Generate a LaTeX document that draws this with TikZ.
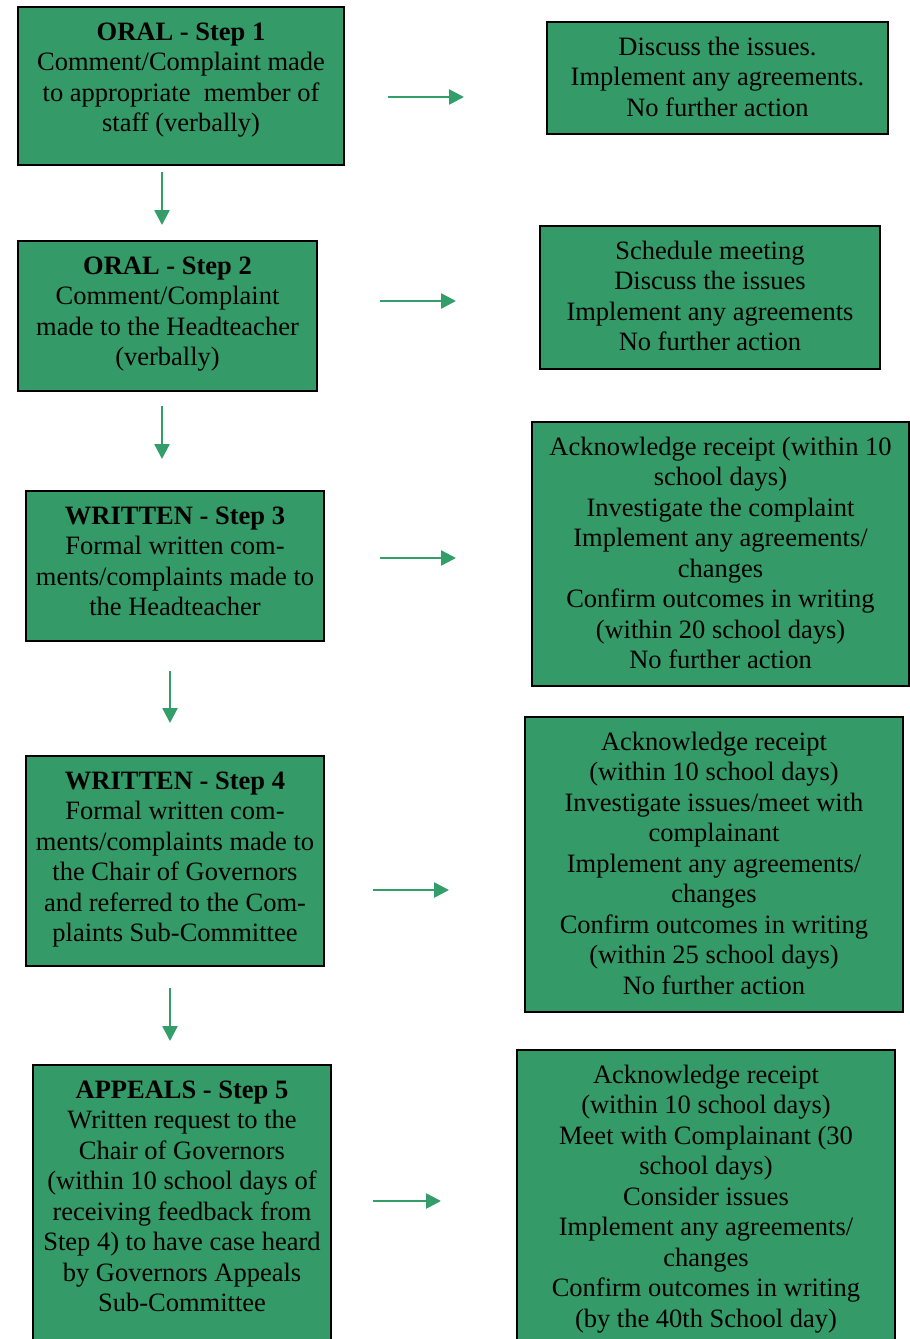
\documentclass[tikz,border=0pt]{standalone}
\usepackage{fontspec}
\setmainfont{Liberation Serif}
\usetikzlibrary{arrows.meta}
\definecolor{boxgreen}{RGB}{52,154,104}
\definecolor{arrowgreen}{RGB}{52,158,106}
\tikzset{
  box/.style={draw=black, line width=1.2pt, fill=boxgreen, inner sep=0pt, outer sep=0pt},
  txt/.style={anchor=north, align=center, inner sep=0pt, text=black, font=\fontsize{26.5}{30.5}\selectfont},
  arr/.style={draw=arrowgreen, line width=2.6pt, -{Triangle[length=15pt,width=15pt]}}
}
\begin{document}
\begin{tikzpicture}[x=1pt,y=-1pt]
\useasboundingbox (0,0) rectangle (910,1339);
\clip (0,0) rectangle (910,1339);
% left boxes
\node[box, minimum width=326, minimum height=158] (b1) at (181,86) {};
\node[box, minimum width=299, minimum height=150] (b2) at (167.5,316) {};
\node[box, minimum width=298, minimum height=150] (b3) at (175,566) {};
\node[box, minimum width=298, minimum height=210] (b4) at (175,861) {};
\node[box, minimum width=298, minimum height=285] (b5) at (182,1207.5) {};
% right boxes
\node[box, minimum width=341, minimum height=112] (r1) at (717.5,78) {};
\node[box, minimum width=340, minimum height=143] (r2) at (710,297.5) {};
\node[box, minimum width=377, minimum height=264] (r3) at (720.5,554) {};
\node[box, minimum width=378, minimum height=295] (r4) at (714,864.5) {};
\node[box, minimum width=378, minimum height=300] (r5) at (706,1200) {};
% texts left
\node[txt] (t1) at ([yshift=-11.65pt]b1.north) {\strut\textbf{ORAL - Step 1}\\Comment/Complaint made\\to appropriate\ \ member of\\staff (verbally)};
\node[txt] (t2) at ([yshift=-11.65pt]b2.north) {\strut\textbf{ORAL - Step 2}\\Comment/Complaint\\made to the Headteacher\\(verbally)};
\node[txt] (t3) at ([yshift=-11.65pt]b3.north) {\strut\textbf{WRITTEN - Step 3}\\Formal written com-\\ments/complaints made to\\the Headteacher};
\node[txt] (t4) at ([yshift=-11.65pt]b4.north) {\strut\textbf{WRITTEN - Step 4}\\Formal written com-\\ments/complaints made to\\the Chair of Governors\\and referred to the Com-\\plaints Sub-Committee};
\node[txt] (t5) at ([yshift=-11.65pt]b5.north) {\strut\textbf{APPEALS - Step 5}\\Written request to the\\Chair of Governors\\(within 10 school days of\\receiving feedback from\\Step 4) to have case heard\\by Governors Appeals\\Sub-Committee};
% texts right
\node[txt] (s1) at ([yshift=-11.65pt]r1.north) {\strut Discuss the issues.\\Implement any agreements.\\No further action};
\node[txt] (s2) at ([yshift=-11.65pt]r2.north) {\strut Schedule meeting\\Discuss the issues\\Implement any agreements\\No further action};
\node[txt] (s3) at ([yshift=-11.65pt]r3.north) {\strut Acknowledge receipt (within 10\\school days)\\Investigate the complaint\\Implement any agreements/\\changes\\Confirm outcomes in writing\\(within 20 school days)\\No further action};
\node[txt] (s4) at ([yshift=-11.65pt]r4.north) {\strut Acknowledge receipt\\(within 10 school days)\\Investigate issues/meet with\\complainant\\Implement any agreements/\\changes\\Confirm outcomes in writing\\(within 25 school days)\\No further action};
\node[txt] (s5) at ([yshift=-11.65pt]r5.north) {\strut Acknowledge receipt\\(within 10 school days)\\Meet with Complainant (30\\school days)\\Consider issues\\Implement any agreements/\\changes\\Confirm outcomes in writing\\(by the 40th School day)};
% arrow end points
\coordinate (h1a) at (388,97);  \coordinate (h1b) at (464,97);
\coordinate (h2a) at (380,301); \coordinate (h2b) at (456,301);
\coordinate (h3a) at (380,558); \coordinate (h3b) at (456,558);
\coordinate (h4a) at (373,890); \coordinate (h4b) at (449,890);
\coordinate (h5a) at (373,1201); \coordinate (h5b) at (441,1201);
\coordinate (v1a) at (162,172); \coordinate (v1b) at (162,225);
\coordinate (v2a) at (162,406); \coordinate (v2b) at (162,459);
\coordinate (v3a) at (170,671); \coordinate (v3b) at (170,723);
\coordinate (v4a) at (170,988); \coordinate (v4b) at (170,1041);
\draw[arr] (h1a) -- (h1b);
\draw[arr] (h2a) -- (h2b);
\draw[arr] (h3a) -- (h3b);
\draw[arr] (h4a) -- (h4b);
\draw[arr] (h5a) -- (h5b);
\draw[arr] (v1a) -- (v1b);
\draw[arr] (v2a) -- (v2b);
\draw[arr] (v3a) -- (v3b);
\draw[arr] (v4a) -- (v4b);
\end{tikzpicture}
\end{document}
